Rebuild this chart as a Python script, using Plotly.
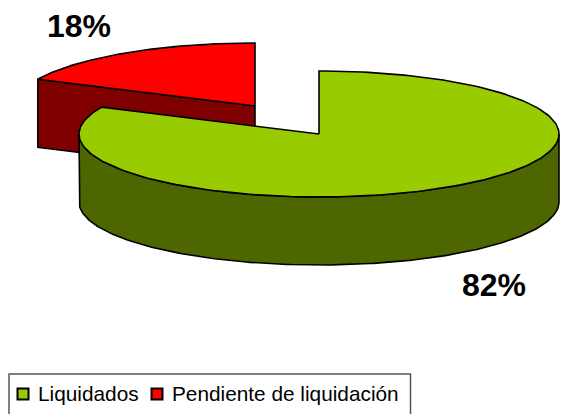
import numpy as np
import plotly.graph_objects as go

categories = ["Liquidados", "Pendiente de liquidación"]
values = [82, 18]
labels = ["82%", "18%"]
top_colors = ["#99CC00", "#FF0000"]
side_colors = ["#4D6600", "#800000"]

RX, RY, DEPTH = 240, 63, 68
centers = [(319, 134), (255, 106)]
FONT = "Liberation Sans"

fig = go.Figure()

def ell(c, a):
    return c[0] + RX * np.sin(a), c[1] - RY * np.cos(a)

def poly(x, y, color):
    fig.add_trace(go.Scatter(x=list(x), y=list(y), mode="lines", fill="toself", fillcolor=color,
                             line=dict(color="black", width=1.6), showlegend=False, hoverinfo="skip"))

fracs = np.array(values) / sum(values)
starts = [0, fracs[0] * 2 * np.pi]
ends = [fracs[0] * 2 * np.pi, 2 * np.pi]

for i in [1, 0]:
    c = centers[i]
    a = np.linspace(starts[i], ends[i], 200)
    lo, hi = max(starts[i], np.pi / 2), min(ends[i], 3 * np.pi / 2)
    if hi > lo:
        s = np.linspace(lo, hi, 200)
        x, y = ell(c, s)
        poly(np.r_[x, x[::-1], x[0]], np.r_[y, y[::-1] + DEPTH, y[0]], side_colors[i])
    if i == 1:
        ex, ey = ell(c, starts[i])
        poly([c[0], ex, ex, c[0], c[0]], [c[1], ey, ey + DEPTH, c[1] + DEPTH, c[1]], side_colors[i])
    x, y = ell(c, a)
    poly(np.r_[c[0], x, c[0]], np.r_[c[1], y, c[1]], top_colors[i])

# legend: box, swatches, names
fig.add_shape(type="rect", x0=9, x1=410.5, y0=374, y1=430, line=dict(color="#555555", width=1.5),
              fillcolor="white", layer="below")
swatch_x = [23, 157]
text_x = [37, 171]
for i, name in enumerate(categories):
    fig.add_trace(go.Scatter(x=[swatch_x[i]], y=[394], mode="markers", name=name, showlegend=False,
                             hoverinfo="name",
                             marker=dict(symbol="square", size=11, color=top_colors[i],
                                         line=dict(color="black", width=2))))
    fig.add_annotation(x=text_x[i], y=393, text=name, showarrow=False, xanchor="left", borderpad=0,
                       font=dict(family=FONT, size=20.8, color="black"))

fig.add_annotation(x=494, y=285, text=f"<b>{labels[0]}</b>", showarrow=False,
                   font=dict(family=FONT, size=32, color="black"))
fig.add_annotation(x=78.5, y=26, text=f"<b>{labels[1]}</b>", showarrow=False,
                   font=dict(family=FONT, size=32, color="black"))

fig.update_layout(
    width=561, height=414, margin=dict(l=0, r=0, t=0, b=0), showlegend=False,
    paper_bgcolor="white", plot_bgcolor="white",
    xaxis=dict(range=[0, 561], visible=False, fixedrange=True),
    yaxis=dict(range=[414, 0], visible=False, fixedrange=True),
)
fig.write_html("out.html", config={"displayModeBar": False},
               post_script="document.body.style.margin='0';document.documentElement.style.overflow='hidden';")
